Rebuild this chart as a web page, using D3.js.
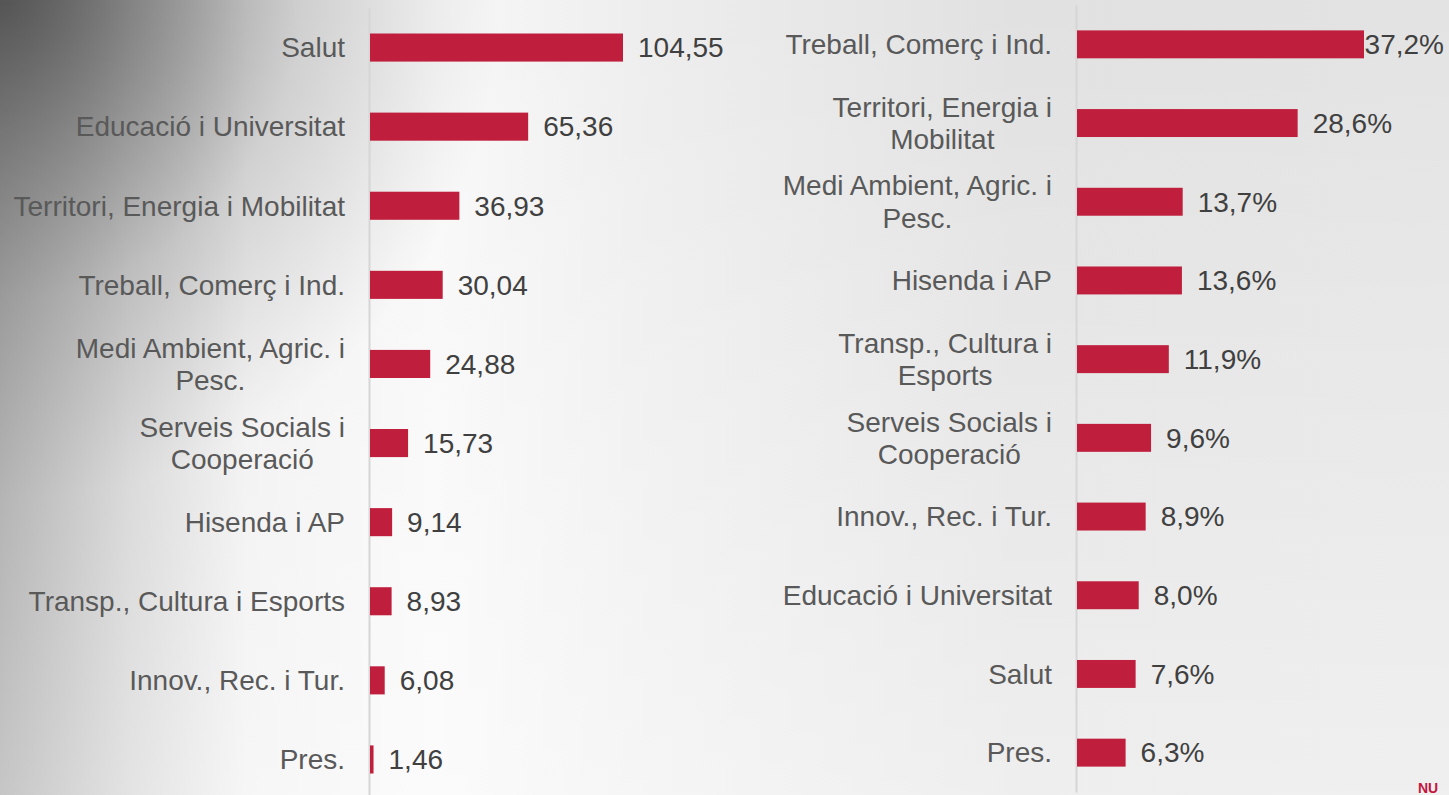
<!DOCTYPE html>
<html>
<head>
<meta charset="utf-8">
<script src="https://cdn.jsdelivr.net/npm/d3@7"></script>
<style>
  html, body { margin: 0; padding: 0; overflow: hidden; }
  body { width: 1449px; height: 795px; }
  text { font-family: "Liberation Sans", Arial, sans-serif; }
</style>
</head>
<body>
<script>
// Left chart: amounts
const leftCategories = [
  "Salut", "Educació i Universitat", "Territori, Energia i Mobilitat",
  "Treball, Comerç i Ind.", "Medi Ambient, Agric. i Pesc.",
  "Serveis Socials i Cooperació", "Hisenda i AP", "Transp., Cultura i Esports",
  "Innov., Rec. i Tur.", "Pres."
];
const leftValues = [104.55, 65.36, 36.93, 30.04, 24.88, 15.73, 9.14, 8.93, 6.08, 1.46];

// Right chart: percentages
const rightCategories = [
  "Treball, Comerç i Ind.", "Territori, Energia i Mobilitat",
  "Medi Ambient, Agric. i Pesc.", "Hisenda i AP", "Transp., Cultura i Esports",
  "Serveis Socials i Cooperació", "Innov., Rec. i Tur.", "Educació i Universitat",
  "Salut", "Pres."
];
const rightValues = [37.2, 28.6, 13.7, 13.6, 11.9, 9.6, 8.9, 8.0, 7.6, 6.3];

const W = 1449, H = 795;
const barColor = "#bf1f3c";
const catColor = "#595959";
const valColor = "#404040";
const fontSize = 28;

const locale = d3.formatLocale({ decimal: ",", thousands: ".", grouping: [3], currency: ["", "€"] });
const fmtLeft = locale.format(".2f");
const fmtRight = d => locale.format(".1f")(d) + "%";

const svg = d3.select("body").append("svg")
  .attr("width", W)
  .attr("height", H);

// background
const defs = svg.append("defs");
const bg = defs.append("linearGradient").attr("id", "bg").attr("x1", 0).attr("x2", 1).attr("y1", 0).attr("y2", 0);
[[0, "#979797"], [0.09, "#cdcdcd"], [0.17, "#efefef"], [0.3, "#f8f8f8"], [0.45, "#ededed"], [0.7, "#e1e1e1"], [1, "#e3e3e3"]]
  .forEach(s => bg.append("stop").attr("offset", s[0]).attr("stop-color", s[1]));
const corner = defs.append("radialGradient").attr("id", "corner")
  .attr("gradientUnits", "userSpaceOnUse").attr("cx", 0).attr("cy", 0).attr("r", 500);
corner.append("stop").attr("offset", 0).attr("stop-color", "#444").attr("stop-opacity", 0.8);
corner.append("stop").attr("offset", 0.6).attr("stop-color", "#444").attr("stop-opacity", 0.2);
corner.append("stop").attr("offset", 1).attr("stop-color", "#444").attr("stop-opacity", 0);
const fade = defs.append("linearGradient").attr("id", "fade").attr("x1", 0).attr("x2", 0).attr("y1", 0).attr("y2", 1);
fade.append("stop").attr("offset", 0).attr("stop-color", "#fff").attr("stop-opacity", 0);
fade.append("stop").attr("offset", 1).attr("stop-color", "#fff").attr("stop-opacity", 0.45);

svg.append("rect").attr("width", W).attr("height", H).attr("fill", "url(#bg)");
svg.append("rect").attr("width", W).attr("height", H).attr("fill", "url(#corner)");
svg.append("rect").attr("width", W).attr("height", H).attr("fill", "url(#fade)");

// wrap a tick label into centred lines, block right-aligned against the axis
function wrapLabels(sel, maxWidth, pad) {
  sel.each(function() {
    const text = d3.select(this);
    const words = text.text().split(" ");
    text.text(null);
    const probe = text.append("tspan");
    const lines = [];
    let line = [];
    words.forEach(w => {
      line.push(w);
      probe.text(line.join(" "));
      if (probe.node().getComputedTextLength() > maxWidth && line.length > 1) {
        line.pop();
        lines.push(line.join(" "));
        line = [w];
      }
    });
    lines.push(line.join(" "));
    const widths = lines.map(l => { probe.text(l); return probe.node().getComputedTextLength(); });
    probe.remove();
    const block = d3.max(widths);
    const cx = -(pad + block / 2);
    const lh = 1.15;
    text.attr("text-anchor", "middle").attr("dy", null);
    lines.forEach((l, i) => {
      text.append("tspan")
        .attr("x", cx)
        .attr("y", 0)
        .attr("dy", ((i - (lines.length - 1) / 2) * lh + 0.35) + "em")
        .text(l);
    });
  });
}

function drawChart(cfg) {
  const x = d3.scaleLinear().domain([0, d3.max(cfg.values)]).range([cfg.x0 + 1, cfg.xMax]);
  const y = d3.scaleBand()
    .domain(cfg.categories)
    .range([cfg.top, cfg.bottom])
    .paddingInner(0.645)
    .paddingOuter(0.3225);

  const data = cfg.categories.map((c, i) => ({ cat: c, value: cfg.values[i] }));

  // category axis
  const axis = svg.append("g")
    .attr("transform", `translate(${cfg.x0},0)`)
    .call(d3.axisLeft(y).tickSize(0).tickSizeOuter(0).tickPadding(0));
  axis.select(".domain").attr("stroke", "#d6d6d6").attr("stroke-width", 2);
  axis.selectAll(".tick text")
    .attr("fill", catColor)
    .style("font-size", fontSize + "px")
    .style("font-family", '"Liberation Sans", Arial, sans-serif')
    .call(wrapLabels, cfg.wrapWidth, 24);

  // bars
  svg.append("g").selectAll("rect")
    .data(data)
    .join("rect")
    .attr("x", x(0))
    .attr("y", d => y(d.cat))
    .attr("width", d => Math.max(2, x(d.value) - x(0)))
    .attr("height", y.bandwidth())
    .attr("fill", barColor);

  // value labels
  svg.append("g").selectAll("text")
    .data(data)
    .join("text")
    .attr("y", d => y(d.cat) + y.bandwidth() / 2)
    .attr("dy", "0.35em")
    .attr("fill", valColor)
    .style("font-size", fontSize + "px")
    .text(d => cfg.fmt(d.value))
    .attr("x", function(d) {
      const w = this.getComputedTextLength();
      return Math.min(x(d.value) + 15, cfg.plotRight - w);
    });
}

drawChart({
  categories: leftCategories, values: leftValues, fmt: fmtLeft,
  x0: 369, xMax: 623, top: 8, bottom: 799, wrapWidth: 342, plotRight: 760
});

drawChart({
  categories: rightCategories, values: rightValues, fmt: fmtRight,
  x0: 1076, xMax: 1364, top: 5, bottom: 792, wrapWidth: 290, plotRight: 1444
});

// corner logo fragment
svg.append("text")
  .attr("x", 1418).attr("y", 793)
  .attr("fill", "#c4163c")
  .style("font-size", "14px")
  .style("font-weight", "bold")
  .text("NU");
</script>
</body>
</html>
